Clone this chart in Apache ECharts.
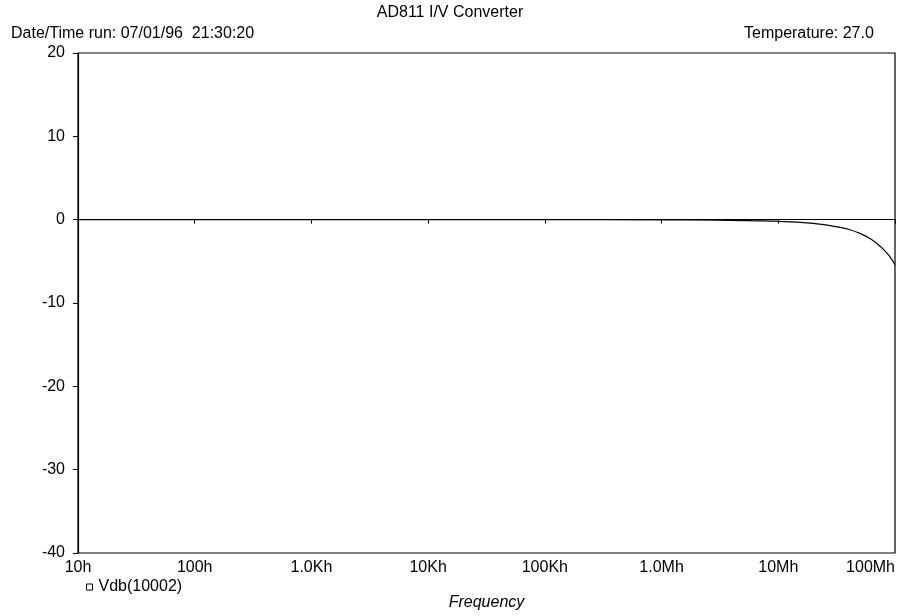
<!DOCTYPE html>
<html>
<head>
<meta charset="utf-8">
<script src="https://cdn.jsdelivr.net/npm/echarts@6/dist/echarts.min.js"></script>
<style>
  html, body { margin: 0; padding: 0; background: #fff; }
  #chart { width: 908px; height: 616px; }
</style>
</head>
<body>
<div id="chart"></div>
<script>
// frequency (Hz) and gain (dB)
var freqs = [10, 100, 1e3, 1e4, 1e5, 1e6, 3e6, 1e7, 2e7, 3e7, 4e7, 5e7, 6e7, 7e7, 8e7, 9e7, 1e8];
var vdb = [0, 0, 0, 0, 0, -0.02, -0.06, -0.2, -0.45, -0.8, -1.15, -1.65, -2.2, -2.85, -3.6, -4.4, -5.4];
var xTickLabels = { 10: "10h", 100: "100h", 1000: "1.0Kh", 10000: "10Kh", 100000: "100Kh", 1000000: "1.0Mh", 10000000: "10Mh", 100000000: "100Mh" };
var seriesName = "Vdb(10002)";

var chart = echarts.init(document.getElementById("chart"));
var font = "Liberation Sans, Arial, sans-serif";
var txt = { fontSize: 16, fontWeight: "normal", color: "#000", fontFamily: font };

var option = {
  animation: false,
  backgroundColor: "#fff",
  textStyle: { fontFamily: font, color: "#000" },
  title: [
    { text: "AD811 I/V Converter", left: 445, top: 0, textAlign: "center", textStyle: txt },
    { text: "Date/Time run: 07/01/96  21:30:20", left: 6, top: 21, textStyle: txt },
    { text: "Temperature: 27.0", left: 739, top: 21, textStyle: txt }
  ],
  legend: {
    data: [seriesName],
    left: 81, top: 574,
    icon: "rect", itemWidth: 6, itemHeight: 6, itemGap: 4,
    itemStyle: { color: "#fff", borderColor: "#000", borderWidth: 1 },
    textStyle: { fontSize: 16, color: "#000", fontFamily: font, padding: [0, 0, 0, 1] }
  },
  grid: {
    left: 78, right: 13, top: 53, bottom: 63,
    show: true, borderColor: "#000", borderWidth: 1.2, backgroundColor: "transparent"
  },
  xAxis: {
    type: "log", logBase: 10, min: 10, max: 1e8,
    name: "Frequency", nameLocation: "middle", nameGap: 42,
    nameTextStyle: { fontSize: 16, fontStyle: "italic", color: "#000", fontFamily: font },
    axisLine: { lineStyle: { color: "#000", width: 1.2 } },
    axisTick: { show: true, length: 4, lineStyle: { color: "#000" } },
    minorTick: { show: false },
    splitLine: { show: false },
    axisLabel: {
      fontSize: 16, color: "#000", margin: 7, fontFamily: font,
      formatter: function (v) { return xTickLabels[Math.round(v)] || ""; },
      alignMaxLabel: "right"
    }
  },
  yAxis: {
    type: "value", min: -40, max: 20, interval: 10,
    axisLine: { show: true, lineStyle: { color: "#000", width: 1.2 } },
    axisTick: { show: true, length: 5, lineStyle: { color: "#000" } },
    splitLine: { show: false },
    axisLabel: { fontSize: 16, color: "#000", margin: 13, fontFamily: font }
  },
  series: [{
    name: seriesName,
    type: "line",
    data: freqs.map(function (f, i) { return [f, vdb[i]]; }),
    showSymbol: false,
    smooth: 0.3,
    lineStyle: { color: "#000", width: 1.2 },
    itemStyle: { color: "#000" }
  }]
};

chart.setOption(option);
</script>
</body>
</html>
